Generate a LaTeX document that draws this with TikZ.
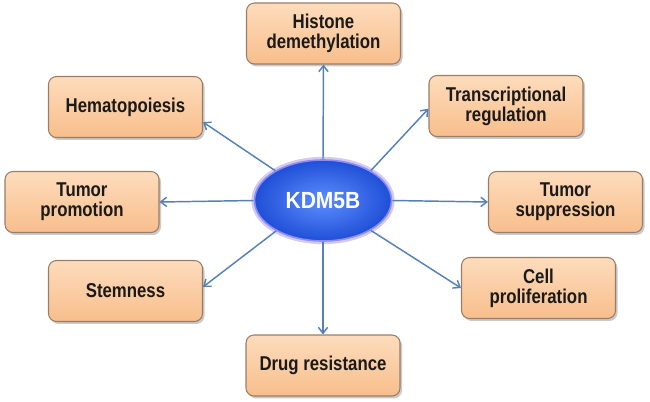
\documentclass[tikz,border=0pt]{standalone}
\usepackage{fontspec}
\setmainfont{Liberation Sans}
\newfontfamily\boxfont[FakeStretch=0.84]{Liberation Sans}
\newfontfamily\hubfont[FakeStretch=0.9]{Liberation Sans}
\usetikzlibrary{arrows.meta,shadows,shapes.geometric}
\definecolor{boxtop}{HTML}{FDDCBC}
\definecolor{boxbot}{HTML}{F8BE8C}
\definecolor{boxline}{HTML}{9A7D66}
\definecolor{arrowc}{HTML}{5581B8}
\definecolor{blueinner}{HTML}{5E8EFF}
\definecolor{blueouter}{HTML}{1F4FD6}
\definecolor{glow}{HTML}{B9A6DC}
\definecolor{txt}{HTML}{1A1A1A}
\begin{document}
\begin{tikzpicture}[x=0.75pt,y=-0.75pt,
  topic/.style={rectangle, rounded corners=6pt, draw=boxline, line width=0.8pt,
    top color=boxtop, bottom color=boxbot,
    minimum width=115.5pt, minimum height=45.75pt, inner sep=2pt,
    align=center, text=txt, font=\boxfont\fontsize{15}{15.2}\selectfont\bfseries,
    drop shadow={shadow xshift=1.5pt, shadow yshift=-1.8pt, opacity=0.35, fill=black!60}},
  hub/.style={ellipse, draw=blue!45!white, line width=1.2pt,
    inner color=blueinner, outer color=blueouter,
    minimum width=102.75pt, minimum height=60.75pt, inner sep=0pt,
    text=white, font=\hubfont\fontsize{17.5}{18}\selectfont\bfseries},
  link/.style={draw=arrowc, line width=1.1pt, -{Straight Barb[length=4.5pt,width=7pt]}}]
\useasboundingbox (0,0) rectangle (650,401);

\node[topic] (hist)  at (323.5,33.5) {Histone\\demethylation};
\node[topic] (hema)  at (125.5,107)  {Hematopoiesis};
\node[topic] (trans) at (506,106)    {Transcriptional\\regulation};
\node[topic] (tprom) at (82,202)     {Tumor\\promotion};
\node[topic] (tsupp) at (565.5,202)  {Tumor\\suppression};
\node[topic] (stem)  at (125.5,291)  {Stemness};
\node[topic] (cell)  at (538.5,288)  {Cell\\proliferation};
\node[topic] (drug)  at (323,365.5)  {Drug resistance};

\node[ellipse, draw=glow, line width=3.5pt, opacity=0.6,
  minimum width=104pt, minimum height=62pt] (kglow) at (323,200.5) {};
\node[hub] (k) at (323,200.5) {KDM5B};

\draw[link] (k.90)    -- (hist.south);
\draw[link] (k.148)   -- (hema.-11);
\draw[link] (k.32)    -- (trans.182);
\draw[link] (k.180)   -- (tprom.east);
\draw[link] (k.0)     -- (tsupp.west);
\draw[link] (k.213)   -- (stem.3);
\draw[link] (k.328)   -- (cell.west);
\draw[link] (k.270)   -- (drug.north);
\end{tikzpicture}
\end{document}
